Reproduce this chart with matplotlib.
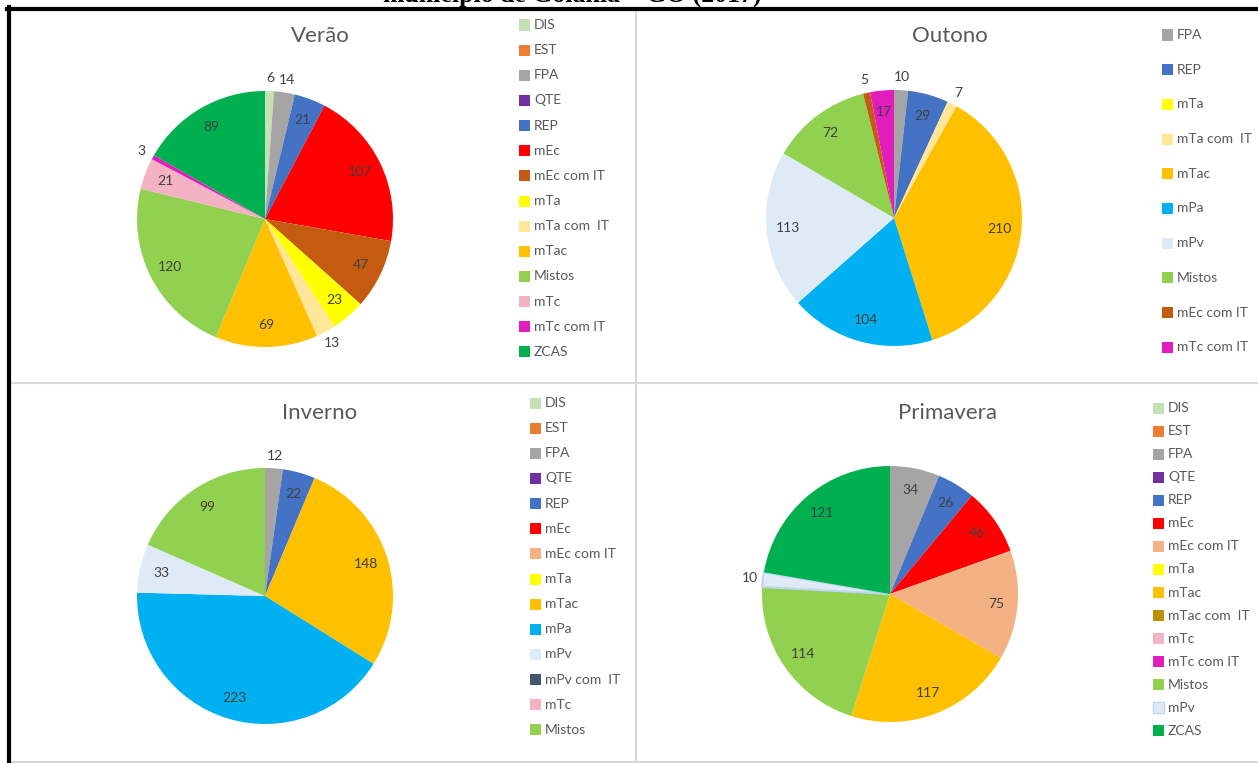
import numpy as np
import matplotlib
matplotlib.use("Agg")
import matplotlib.pyplot as plt
from matplotlib.patches import Rectangle
from matplotlib.lines import Line2D

plt.rcParams['font.family'] = ['Lato', 'DejaVu Sans']

# atmospheric systems per season (Goiânia, 2017)
verao_labels = ['DIS', 'EST', 'FPA', 'QTE', 'REP', 'mEc', 'mEc com IT', 'mTa',
                'mTa com  IT', 'mTac', 'Mistos', 'mTc', 'mTc com IT', 'ZCAS']
verao_values = [6, 0, 14, 0, 21, 107, 47, 23, 13, 69, 120, 21, 3, 89]

outono_labels = ['FPA', 'REP', 'mTa', 'mTa com  IT', 'mTac', 'mPa', 'mPv',
                 'Mistos', 'mEc com IT', 'mTc com IT']
outono_values = [10, 29, 0, 7, 210, 104, 113, 72, 5, 17]

inverno_labels = ['DIS', 'EST', 'FPA', 'QTE', 'REP', 'mEc', 'mEc com IT', 'mTa',
                  'mTac', 'mPa', 'mPv', 'mPv com  IT', 'mTc', 'Mistos']
inverno_values = [0, 0, 12, 0, 22, 0, 0, 0, 148, 223, 33, 0, 0, 99]

primavera_labels = ['DIS', 'EST', 'FPA', 'QTE', 'REP', 'mEc', 'mEc com IT', 'mTa',
                    'mTac', 'mTac com  IT', 'mTc', 'mTc com IT', 'Mistos', 'mPv', 'ZCAS']
primavera_values = [0, 0, 34, 0, 26, 46, 75, 0, 117, 0, 0, 0, 114, 10, 121]

base_colors = {
    'DIS': '#C5E0B4', 'EST': '#ED7D31', 'FPA': '#A5A5A5', 'QTE': '#7030A0',
    'REP': '#4472C4', 'mEc': '#FF0000', 'mEc com IT': '#C55A11', 'mTa': '#FFFF00',
    'mTa com  IT': '#FFE699', 'mTac': '#FFC000', 'Mistos': '#92D050',
    'mTc': '#F4B3C0', 'mTc com IT': '#E21DBE', 'ZCAS': '#00B050',
    'mPa': '#00B0F0', 'mPv': '#DEEBF7', 'mPv com  IT': '#44546A',
    'mTac com  IT': '#BF9000',
}
light_ec = {'mEc com IT': '#F4B183'}

W, H = 1258, 763


def fx(x):
    return x / W


def fy(y):
    return 1 - y / H


fig = plt.figure(figsize=(W / 100, H / 100), dpi=100)


def draw_panel(name, labels, values, colors, center, title_xy, leg_x, leg_y0, leg_dy,
               edges=None):
    edges = edges or {}
    cx, cy = center
    R = 128
    span = 1.4
    size = 2 * span * R
    ax = fig.add_axes([fx(cx - size / 2), fy(cy + size / 2), size / W, size / H])

    keep = [i for i, v in enumerate(values) if v > 0]
    vals = [values[i] for i in keep]
    cols = [colors[labels[i]] for i in keep]
    total = float(sum(vals))
    wedges, _ = ax.pie(vals, colors=cols, startangle=90, counterclock=False,
                       radius=1, wedgeprops=dict(linewidth=0))
    # pie() resets the limits, so fix them afterwards
    ax.set_xlim(-span, span)
    ax.set_ylim(-span, span)
    ax.axis('off')
    for w, i in zip(wedges, keep):
        if labels[i] in edges:
            w.set_edgecolor(edges[labels[i]])
            w.set_linewidth(1.5)

    for w, v in zip(wedges, vals):
        ang = np.deg2rad((w.theta1 + w.theta2) / 2)
        r = 0.83 if v / total >= 0.028 else 1.1
        ax.text(r * np.cos(ang), r * np.sin(ang), str(v), ha='center', va='center',
                fontsize=10, color='#404040')

    fig.text(fx(title_xy[0]), fy(title_xy[1]), name, ha='center', va='center',
             fontsize=16, color='#595959')

    for k, lab in enumerate(labels):
        y = leg_y0 + k * leg_dy
        fig.patches.append(Rectangle((fx(leg_x), fy(y + 5.5)), 11 / W, 11 / H,
                                     transform=fig.transFigure,
                                     facecolor=colors[lab],
                                     edgecolor=edges.get(lab, 'none'), linewidth=1))
        fig.text(fx(leg_x + 15), fy(y), lab, ha='left', va='center',
                 fontsize=10, color='#595959')


verao_colors = dict(base_colors)
cold_colors = dict(base_colors, **light_ec)

draw_panel('Verão', verao_labels, verao_values, verao_colors,
           (265, 219), (320, 36), 519, 25, 25.15)
draw_panel('Outono', outono_labels, outono_values, verao_colors,
           (894, 218), (950, 36), 1162, 35, 34.7)
draw_panel('Inverno', inverno_labels, inverno_values, cold_colors,
           (265, 596), (320, 413), 530, 403, 25.15)
draw_panel('Primavera', primavera_labels, primavera_values, cold_colors,
           (890, 594), (948, 413), 1153, 408, 23.07, edges={'mPv': '#BDD7EE'})

# panel separators and outer frame
grid = dict(color='#D9D9D9', linewidth=1.5, transform=fig.transFigure)
fig.add_artist(Line2D([fx(636), fx(636)], [fy(11), fy(763)], **grid))
fig.add_artist(Line2D([fx(11), fx(W)], [fy(383), fy(383)], **grid))
fig.add_artist(Line2D([fx(11), fx(W)], [fy(762), fy(762)], **grid))
fig.add_artist(Line2D([fx(7), fx(W)], [fy(9), fy(9)], color='black', linewidth=3,
                      transform=fig.transFigure))
fig.add_artist(Line2D([fx(9), fx(9)], [fy(7), fy(H)], color='black', linewidth=3,
                      transform=fig.transFigure))

fig.text(fx(572), fy(2), 'município de Goiânia – GO (2017)', ha='center', va='baseline',
         family='Liberation Serif', weight='bold', fontsize=18.5)

fig.savefig('out.png', dpi=100)
